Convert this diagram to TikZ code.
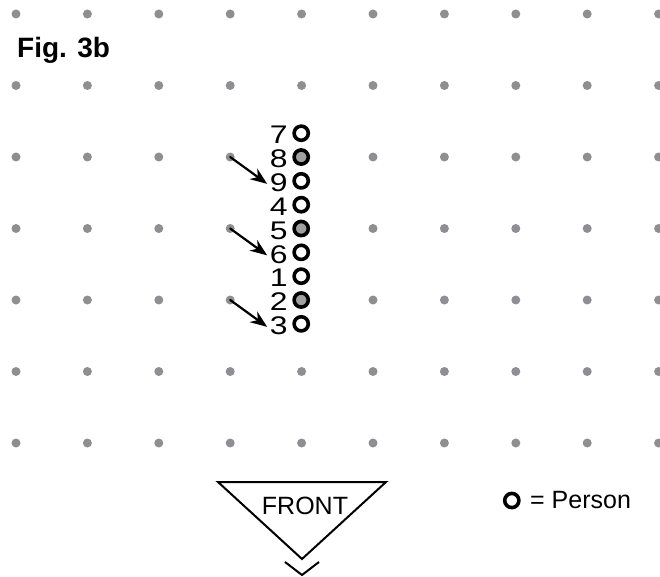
\documentclass[tikz,border=0pt]{standalone}
\usepackage{fontspec}
\setmainfont{Liberation Sans}
\usetikzlibrary{arrows.meta,positioning}
\definecolor{dotgray}{HTML}{8F8F93}

\begin{document}
\begin{tikzpicture}[x=1pt, y=-1pt, line cap=round, line join=round,
  dotmark/.style={circle, fill=dotgray, inner sep=0pt, minimum size=9pt},
  person/.style={circle, draw=black, line width=3.6pt, fill=white, inner sep=0pt, minimum size=14.2pt},
  onspot/.style={person, fill=dotgray!85},
  seatno/.style={font=\fontsize{25.5}{26}\selectfont, inner sep=0pt, anchor=east},
  pointer/.style={line width=2.2pt, -{Stealth[length=17pt, width=13pt]}}]

\useasboundingbox (0,0) rectangle (660,577);

% ---- grid of floor spots ----------------------------------------------
\foreach \i in {0,...,9}
  \foreach \j in {0,...,6}
    \node[dotmark] (d-\i-\j) at (16+71.4*\i, 14+71.5*\j) {};

\node[font=\fontsize{28}{30}\selectfont\bfseries, anchor=west, inner sep=0pt] (title) at (17,50) {Fig. 3b};

% ---- the file of people, front to back --------------------------------
\def\xp{301.2}
\foreach \n/\k/\s in {7/0/person, 8/1/onspot, 9/2/person, 4/3/person, 5/4/onspot,
                      6/5/person, 1/6/person, 2/7/onspot, 3/8/person}{
  \node[\s] (p\n) at (\xp, 133.2+23.83*\k) {};
  \node[seatno] (n\n) at ([xshift=-4.5pt,yshift=-2pt]p\n.west) {\scalebox{1.25}[1]{\n}};
}

% ---- who steps in -------------------------------------------------------
\draw[pointer] (d-3-2.center) -- ([xshift=-2.5pt,yshift=-1pt]n9.west);
\draw[pointer] (d-3-3.center) -- ([xshift=-2.5pt,yshift=-1pt]n6.west);
\draw[pointer] (d-3-4.center) -- ([xshift=-2.5pt,yshift=-1pt]n3.west);

% ---- front marker ---------------------------------------------------------
\coordinate (fl) at (218,482);
\coordinate (fr) at (386,482);
\coordinate (fa) at (302,559);
\draw[line width=2pt, line cap=butt, line join=miter] (fl) -- (fr) -- (fa) -- cycle;
\node[font=\fontsize{25}{26}\selectfont, inner sep=0pt] (front) at (305,505.5) {FRONT};
\coordinate (cl) at (285,562);
\coordinate (cr) at (319,562);
\coordinate (ca) at (302,575);
\draw[line width=2pt, line cap=butt] (cl) -- (ca) -- (cr);

% ---- legend -------------------------------------------------------------
\node[person, fill=none] (key) at (511.8,500.5) {};
\node[font=\fontsize{25}{26}\selectfont, anchor=west, inner sep=0pt] (keytext) at (530,500.5) {= Person};

\end{tikzpicture}
\end{document}
